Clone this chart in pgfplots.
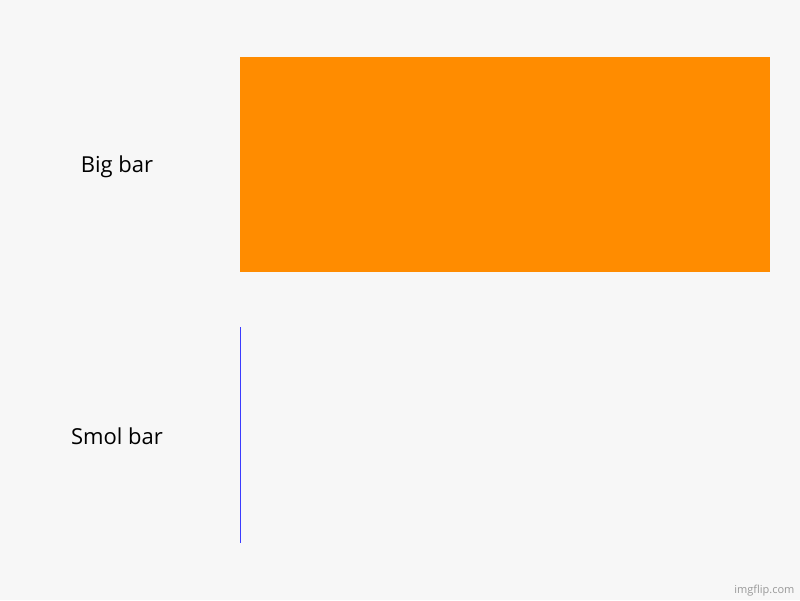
\documentclass[border=0pt]{standalone}
\usepackage{pgfplots}
\pgfplotsset{compat=1.18}
\usepackage{fontspec}
\setmainfont{Open Sans}
\definecolor{bg}{HTML}{F7F7F7}
\definecolor{bigorange}{HTML}{FF8C00}
\definecolor{smolblue}{HTML}{3C3CFF}
\begin{document}
\begin{tikzpicture}[x=1pt,y=1pt]
  \useasboundingbox (0,0) rectangle (800,600);
  \fill[bg] (0,0) rectangle (800,600);
  \begin{axis}[
      at={(240pt,58pt)}, anchor=south west,
      scale only axis,
      width=530pt, height=485pt,
      xbar, bar shift=0pt, bar width=215pt,
      xmin=0, xmax=100,
      ymin=-0.398, ymax=1.398,
      axis line style={draw=none},
      xtick=\empty,
      ytick={0,1}, yticklabels={Smol bar, Big bar},
      major tick length=0pt,
      yticklabel style={anchor=center, xshift=-123pt, yshift=-2pt, font=\fontsize{22}{26}\selectfont},
    ]
    \addplot[fill=bigorange, draw=none] coordinates {(100,1)};
    \addplot[fill=smolblue, draw=smolblue, line width=0.6pt] coordinates {(0.1,0)};
  \end{axis}
  \node[anchor=east, text=gray!80, font=\fontsize{11}{13}\selectfont] at (798,9) {imgflip.com};
\end{tikzpicture}
\end{document}
